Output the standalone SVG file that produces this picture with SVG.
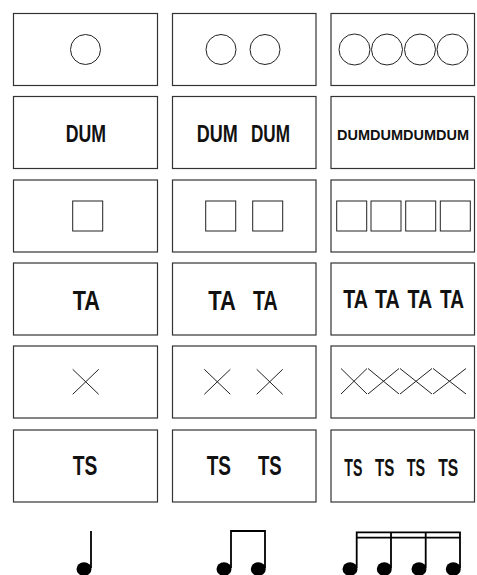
<svg xmlns="http://www.w3.org/2000/svg" width="477" height="575" viewBox="0 0 477 575">
<style>
.box{fill:#fff;stroke:#333;stroke-width:1.2}
.sh{fill:none;stroke:#222;stroke-width:1}
.t{font-family:"Liberation Sans",Arial,sans-serif;fill:#111;font-weight:bold}
.stem{stroke:#000;stroke-width:1.8;fill:none}
.head{fill:#000}
</style>
<rect width="477" height="575" fill="#fff"/>
<!-- Row 1: circles -->
<g id="r1c1"><rect class="box" x="13.5" y="13.5" width="144" height="72"/><circle class="sh" cx="85.5" cy="49.5" r="15"/></g>
<g id="r1c2"><rect class="box" x="172.5" y="13.5" width="143.5" height="72"/><circle class="sh" cx="221" cy="49.5" r="15"/><circle class="sh" cx="265" cy="49.5" r="15"/></g>
<g id="r1c3"><rect class="box" x="331" y="13.5" width="143.5" height="72"/><circle class="sh" cx="354.5" cy="49.5" r="15.5"/><circle class="sh" cx="387" cy="49.5" r="15.5"/><circle class="sh" cx="420" cy="49.5" r="15.5"/><circle class="sh" cx="452.5" cy="49.5" r="15.5"/></g>
<!-- Row 2: DUM -->
<g id="r2c1"><rect class="box" x="13.5" y="96.5" width="144" height="72"/><text class="t" font-size="24" x="65.7" y="142.3" textLength="40.3" lengthAdjust="spacingAndGlyphs">DUM</text></g>
<g id="r2c2"><rect class="box" x="172.5" y="96.5" width="143.5" height="72"/><text class="t" font-size="24" y="142.3"><tspan x="196.7" textLength="41" lengthAdjust="spacingAndGlyphs">DUM</tspan> <tspan x="251" textLength="39" lengthAdjust="spacingAndGlyphs">DUM</tspan></text></g>
<g id="r2c3"><rect class="box" x="331" y="96.5" width="143.5" height="72"/><text class="t" font-size="14.5" x="337" y="139.5" textLength="132" lengthAdjust="spacingAndGlyphs">DUMDUMDUMDUM</text></g>
<!-- Row 3: squares -->
<g id="r3c1"><rect class="box" x="13.5" y="180" width="144" height="72"/><rect class="sh" x="72.7" y="201" width="30" height="30"/></g>
<g id="r3c2"><rect class="box" x="172.5" y="180" width="143.5" height="72"/><rect class="sh" x="205.7" y="201" width="30" height="30"/><rect class="sh" x="252.7" y="201" width="30" height="30"/></g>
<g id="r3c3"><rect class="box" x="331" y="180" width="143.5" height="72"/><rect class="sh" x="336.7" y="201" width="30" height="30"/><rect class="sh" x="371" y="201" width="30" height="30"/><rect class="sh" x="405.7" y="201" width="30" height="30"/><rect class="sh" x="440.3" y="201" width="30" height="30"/></g>
<!-- Row 4: TA -->
<g id="r4c1"><rect class="box" x="13.5" y="263" width="144" height="72"/><text class="t" font-size="28" x="72.7" y="310" textLength="27.3" lengthAdjust="spacingAndGlyphs">TA</text></g>
<g id="r4c2"><rect class="box" x="172.5" y="263" width="143.5" height="72"/><text class="t" font-size="28" y="310"><tspan x="208.3" textLength="26.7" lengthAdjust="spacingAndGlyphs">TA</tspan> <tspan x="253" textLength="24.7" lengthAdjust="spacingAndGlyphs">TA</tspan></text></g>
<g id="r4c3"><rect class="box" x="331" y="263" width="143.5" height="72"/><text class="t" font-size="25.5" y="308.3"><tspan x="343.3" textLength="24" lengthAdjust="spacingAndGlyphs">TA</tspan> <tspan x="375" textLength="24" lengthAdjust="spacingAndGlyphs">TA</tspan> <tspan x="407.5" textLength="24" lengthAdjust="spacingAndGlyphs">TA</tspan> <tspan x="440" textLength="24" lengthAdjust="spacingAndGlyphs">TA</tspan></text></g>
<!-- Row 5: crosses -->
<g id="r5c1"><rect class="box" x="13.5" y="346" width="144" height="72"/><path class="sh" d="M72.7 369.3L98.7 394.3M98.7 369.3L72.7 394.3"/></g>
<g id="r5c2"><rect class="box" x="172.5" y="346" width="143.5" height="72"/><path class="sh" d="M204.3 369.3L230.3 394.3M230.3 369.3L204.3 394.3M256.7 369.3L282.7 394.3M282.7 369.3L256.7 394.3"/></g>
<g id="r5c3"><rect class="box" x="331" y="346" width="143.5" height="72"/><path class="sh" d="M341 368.5L367 394M367 368.5L341 394M368 368.5L399 394M399 368.5L368 394M400 368.5L432 394M432 368.5L400 394M433 368.5L466 394M466 368.5L433 394"/></g>
<!-- Row 6: TS -->
<g id="r6c1"><rect class="box" x="13.5" y="430" width="144" height="72"/><text class="t" font-size="28" x="72.7" y="475" textLength="24.6" lengthAdjust="spacingAndGlyphs">TS</text></g>
<g id="r6c2"><rect class="box" x="172.5" y="430" width="143.5" height="72"/><text class="t" font-size="28" y="475"><tspan x="206.7" textLength="24.3" lengthAdjust="spacingAndGlyphs">TS</tspan> <tspan x="258" textLength="23.7" lengthAdjust="spacingAndGlyphs">TS</tspan></text></g>
<g id="r6c3"><rect class="box" x="331" y="430" width="143.5" height="72"/><text class="t" font-size="24" y="475.5"><tspan x="344.3" textLength="18" lengthAdjust="spacingAndGlyphs">TS</tspan> <tspan x="375" textLength="19.3" lengthAdjust="spacingAndGlyphs">TS</tspan> <tspan x="406.7" textLength="18.3" lengthAdjust="spacingAndGlyphs">TS</tspan> <tspan x="438.3" textLength="20" lengthAdjust="spacingAndGlyphs">TS</tspan></text></g>
<!-- Notes -->
<g id="note1"><ellipse class="head" cx="84" cy="569" rx="7.5" ry="6.8"/><line class="stem" x1="91" y1="531" x2="91" y2="568"/></g>
<g id="note2"><ellipse class="head" cx="224" cy="569" rx="7.5" ry="6.8"/><ellipse class="head" cx="258.3" cy="569" rx="7.5" ry="6.8"/><path class="stem" d="M231 568V531H265V568"/></g>
<g id="note3"><ellipse class="head" cx="350" cy="569" rx="7.5" ry="6.8"/><ellipse class="head" cx="384.3" cy="569" rx="7.5" ry="6.8"/><ellipse class="head" cx="419" cy="569" rx="7.5" ry="6.8"/><ellipse class="head" cx="453.3" cy="569" rx="7.5" ry="6.8"/><path class="stem" d="M356.7 568V532.3H460V568M391 532.3V568M425.7 532.3V568M356.7 537.7H460"/></g>
</svg>
